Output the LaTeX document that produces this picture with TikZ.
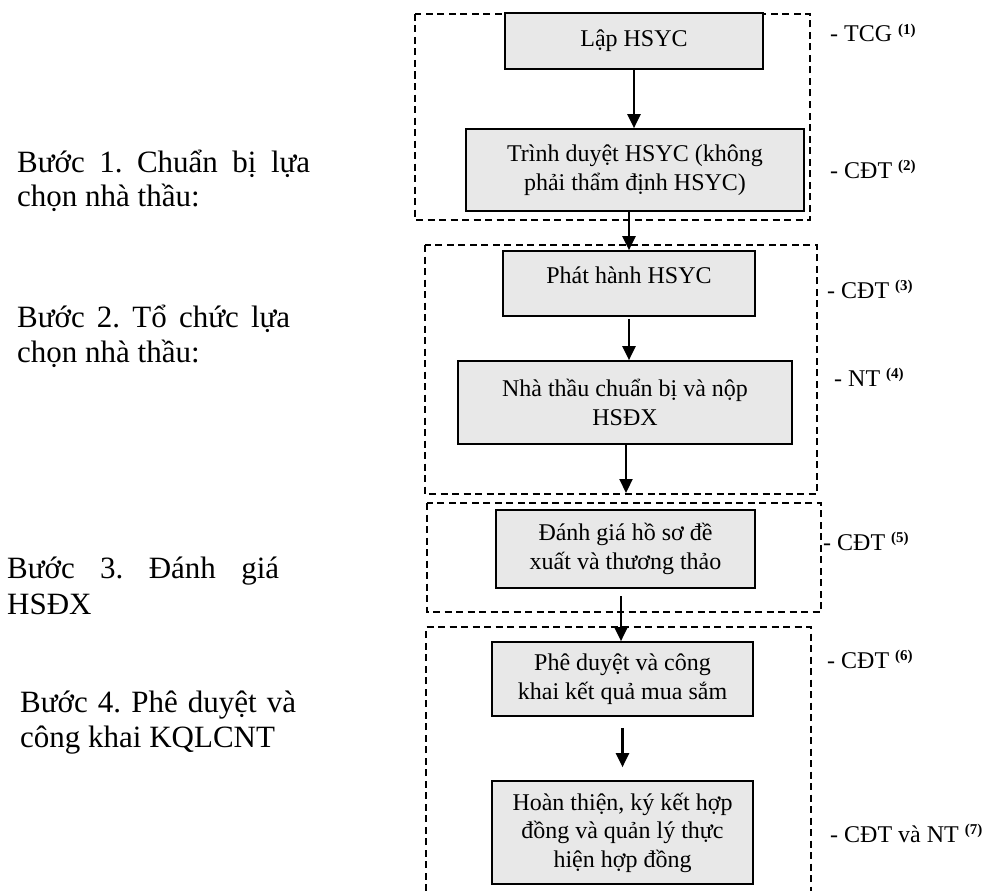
\documentclass[tikz,border=0pt]{standalone}
\usepackage{fontspec}
\setmainfont{Liberation Serif}
\usetikzlibrary{arrows.meta}
\definecolor{boxfill}{HTML}{E8E8E8}
\newcommand{\supnum}[1]{\raisebox{8pt}{\fontsize{15}{15}\selectfont\bfseries(#1)}}
\begin{document}
\frenchspacing
\begin{tikzpicture}[x=1pt,y=-1pt,
  stepbox/.style={draw=black, line width=1.7pt, fill=boxfill, inner sep=0pt, align=center, font=\fontsize{24}{28.5}\selectfont},
  frame/.style={draw=black, line width=1.6pt, dash pattern=on 7pt off 4.5pt},
  arr/.style={line width=2.2pt, -{Triangle[length=14pt,width=13pt]}},
  lbl/.style={anchor=base west, inner sep=0pt, font=\fontsize{31}{35}\selectfont},
  who/.style={anchor=base west, inner sep=0pt, font=\fontsize{24}{28}\selectfont}]
\useasboundingbox (0,0) rectangle (985,891);
% dashed frames
\coordinate (f1a) at (415,14); \coordinate (f1b) at (810,220);
\coordinate (f2a) at (425,245); \coordinate (f2b) at (817,494);
\coordinate (f3a) at (427,503); \coordinate (f3b) at (821,612);
\coordinate (f4a) at (426,891); \coordinate (f4b) at (811,627); \coordinate (f4c) at (811,891);
\draw[frame] (f1a) rectangle (f1b);
\draw[frame] (f2a) rectangle (f2b);
\draw[frame] (f3a) rectangle (f3b);
\draw[frame] (f4a) |- (f4b) -- (f4c);
% boxes
\node[stepbox, minimum width=258pt, minimum height=56pt] (b1) at (634,41) {Lập HSYC};
\node[stepbox, minimum width=338pt, minimum height=82pt] (b2) at (635,170) {Trình duyệt HSYC (không\\phải thẩm định HSYC)};
\node[stepbox, minimum width=252pt, minimum height=65pt, text height=8pt, text depth=8pt] (b3) at (629,283.5) {Phát hành HSYC};
\node[stepbox, minimum width=334pt, minimum height=83pt] (b4) at (625,402.5) {Nhà thầu chuẩn bị và nộp\\HSĐX};
\node[stepbox, minimum width=259pt, minimum height=78pt] (b5) at (625.5,549) {Đánh giá hồ sơ đề\\xuất và thương thảo};
\node[stepbox, minimum width=261pt, minimum height=74pt] (b6) at (622.5,679) {Phê duyệt và công\\khai kết quả mua sắm};
\node[stepbox, minimum width=261pt, minimum height=103pt] (b7) at (622.5,832.5) {Hoàn thiện, ký kết hợp\\đồng và quản lý thực\\hiện hợp đồng};
% arrows
\draw[arr] (b1.south) -- (b1.south |- b2.north);
\draw[arr] (b2.south -| b3.north) -- (b3.north);
\draw[arr] ([yshift=-2pt]b3.south) -- (b3.south |- b4.north);
\coordinate (e4) at (626,493);
\draw[arr] (b4.south -| e4) -- (e4);
\coordinate (a5) at (621,596);
\draw[arr] (a5) -- (a5 |- b6.north);
\draw[arr] ([yshift=-11pt]b6.south) -- ([yshift=13pt]b7.north);
% step labels
\node[lbl] (s1a) at (17,172) {\makebox[293pt][s]{Bước 1. Chuẩn bị lựa}};
\node[lbl] (s1b) at (17,206) {chọn nhà thầu:};
\node[lbl] (s2a) at (17,327) {\makebox[273pt][s]{Bước 2. Tổ chức lựa}};
\node[lbl] (s2b) at (17,362) {chọn nhà thầu:};
\node[lbl] (s3a) at (7,578) {\makebox[272pt][s]{Bước 3. Đánh giá}};
\node[lbl] (s3b) at (7,614) {HSĐX};
\node[lbl] (s4a) at (20,712) {\makebox[276pt][s]{Bước 4. Phê duyệt và}};
\node[lbl] (s4b) at (20,747) {công khai KQLCNT};
% responsible parties
\node[who] (w1) at (830,42) {- TCG \supnum{1}};
\node[who] (w2) at (830,178) {- CĐT \supnum{2}};
\node[who] (w3) at (827,298) {- CĐT \supnum{3}};
\node[who] (w4) at (834,386) {- NT \supnum{4}};
\node[who] (w5) at (823,550) {- CĐT \supnum{5}};
\node[who] (w6) at (827,668) {- CĐT \supnum{6}};
\node[who] (w7) at (830,842) {- CĐT và NT \supnum{7}};
\end{tikzpicture}
\end{document}
